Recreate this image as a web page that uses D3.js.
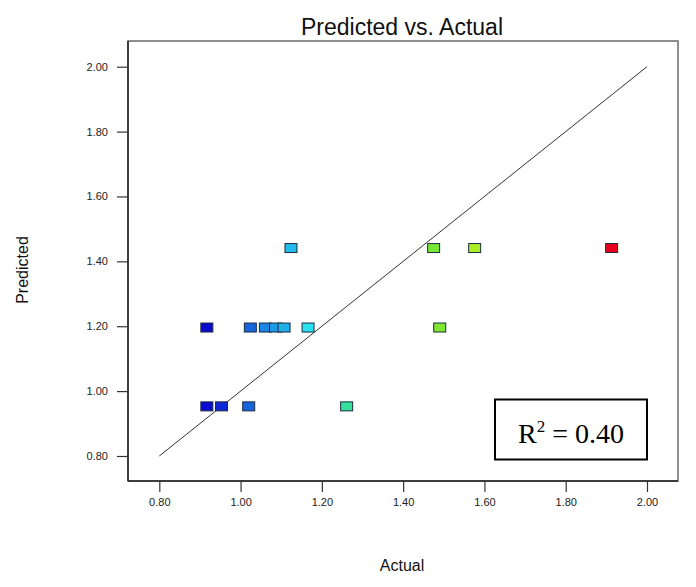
<!DOCTYPE html>
<html>
<head>
<meta charset="utf-8">
<script src="https://cdn.jsdelivr.net/npm/d3@7"></script>
<style>
  body { margin: 0; background: #fff; }
  svg { display: block; }
</style>
</head>
<body>
<svg id="chart" width="696" height="587"></svg>
<script>
// data
var actual    = [0.917, 0.953, 1.020, 1.261, 0.917, 1.024, 1.061, 1.086, 1.107, 1.166, 1.490, 1.124, 1.475, 1.576, 1.913];
var predicted = [0.953, 0.953, 0.953, 0.953, 1.196, 1.196, 1.196, 1.196, 1.196, 1.196, 1.196, 1.441, 1.441, 1.441, 1.441];
var xTicks = [0.8, 1.0, 1.2, 1.4, 1.6, 1.8, 2.0];
var yTicks = [0.8, 1.0, 1.2, 1.4, 1.6, 1.8, 2.0];
var fitLine = [0.8, 2.0];
var rSquared = "0.40";

var svg = d3.select("#chart"),
    frame = {left: 128, right: 678, top: 41, bottom: 481};

var x = d3.scaleLinear().domain([0.8, 2.0]).range([159.3, 647]);
var y = d3.scaleLinear().domain([0.8, 2.0]).range([456, 66.7]);

var data = actual.map(function(a, i) { return {a: a, p: predicted[i]}; });

var ext = d3.extent(actual);
var color = d3.scaleLinear()
    .domain([0, 0.25, 0.45, 0.72, 1].map(function(t) { return ext[0] + t * (ext[1] - ext[0]); }))
    .range(["#0a0ad0", "#28e0f0", "#40e040", "#c8f020", "#e8001a"]);

// frame
svg.append("rect")
    .attr("x", frame.left).attr("y", frame.top)
    .attr("width", frame.right - frame.left)
    .attr("height", frame.bottom - frame.top)
    .attr("fill", "none")
    .attr("stroke", "#6a6a6a")
    .attr("stroke-width", 1.5);
svg.append("line")
    .attr("x1", frame.left).attr("x2", frame.left)
    .attr("y1", frame.top).attr("y2", frame.bottom)
    .attr("stroke", "#222").attr("stroke-width", 1.5);
svg.append("line")
    .attr("x1", frame.left).attr("x2", frame.right)
    .attr("y1", frame.bottom).attr("y2", frame.bottom)
    .attr("stroke", "#222").attr("stroke-width", 1.5);

// axes
var xAxis = svg.append("g")
    .attr("transform", "translate(0," + frame.bottom + ")")
    .call(d3.axisBottom(x).tickValues(xTicks).tickFormat(d3.format(".2f")).tickSize(11).tickPadding(6));
var yAxis = svg.append("g")
    .attr("transform", "translate(" + frame.left + ",0)")
    .call(d3.axisLeft(y).tickValues(yTicks).tickFormat(d3.format(".2f")).tickSize(11).tickPadding(9));

[xAxis, yAxis].forEach(function(ax) {
  ax.select(".domain").remove();
  ax.selectAll("line").attr("stroke", "#333").attr("stroke-width", 1.2);
  ax.selectAll("text")
    .attr("font-family", "Arial, 'Liberation Sans', sans-serif")
    .attr("font-size", "11px")
    .attr("fill", "#222");
});

// 1:1 line
svg.append("line")
    .attr("x1", x(fitLine[0])).attr("y1", y(fitLine[0]))
    .attr("x2", x(fitLine[1])).attr("y2", y(fitLine[1]))
    .attr("stroke", "#333").attr("stroke-width", 1);

// points
svg.selectAll(".pt")
    .data(data)
    .enter().append("rect")
    .attr("class", "pt")
    .attr("x", function(d) { return x(d.a) - 6; })
    .attr("y", function(d) { return y(d.p) - 4.5; })
    .attr("width", 12)
    .attr("height", 9)
    .attr("fill", function(d) { return color(d.a); })
    .attr("stroke", "#1a2a40")
    .attr("stroke-width", 1);

// R squared box
svg.append("rect")
    .attr("x", 495).attr("y", 399.5)
    .attr("width", 152).attr("height", 60)
    .attr("fill", "#fff")
    .attr("stroke", "#000")
    .attr("stroke-width", 2);
var rt = svg.append("text")
    .attr("x", 571).attr("y", 443)
    .attr("text-anchor", "middle")
    .attr("font-family", "'Liberation Serif', 'Times New Roman', serif")
    .attr("font-size", "28px")
    .attr("fill", "#000");
rt.append("tspan").text("R");
rt.append("tspan").attr("dy", -11).attr("font-size", "17px").text("2");
rt.append("tspan").attr("dy", 11).text(" = " + rSquared);

// titles
svg.append("text")
    .attr("x", 402).attr("y", 35)
    .attr("text-anchor", "middle")
    .attr("font-family", "Arial, 'Liberation Sans', sans-serif")
    .attr("font-size", "23px")
    .attr("fill", "#111")
    .text("Predicted vs. Actual");
svg.append("text")
    .attr("x", 402).attr("y", 571)
    .attr("text-anchor", "middle")
    .attr("font-family", "Arial, 'Liberation Sans', sans-serif")
    .attr("font-size", "16px")
    .attr("fill", "#111")
    .text("Actual");
svg.append("text")
    .attr("transform", "translate(28,270) rotate(-90)")
    .attr("text-anchor", "middle")
    .attr("font-family", "Arial, 'Liberation Sans', sans-serif")
    .attr("font-size", "16px")
    .attr("fill", "#111")
    .text("Predicted");
</script>
</body>
</html>
